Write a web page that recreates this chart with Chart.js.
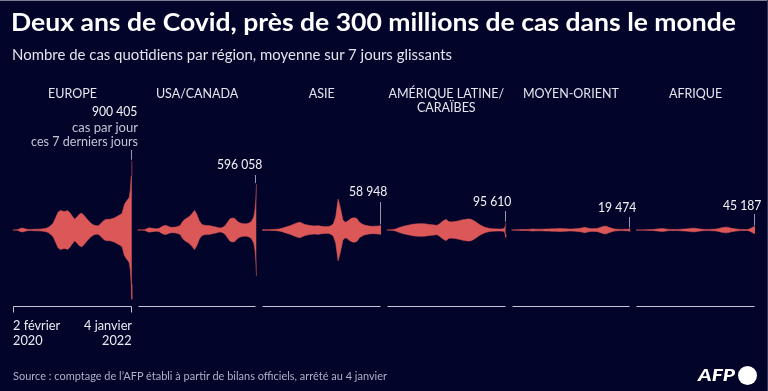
<!DOCTYPE html>
<html lang="fr">
<head>
<meta charset="utf-8">
<title>Deux ans de Covid</title>
<script src="https://cdn.jsdelivr.net/npm/chart.js@4.4.1/dist/chart.umd.min.js"></script>
<style>
  html, body { margin: 0; padding: 0; }
  body {
    width: 768px; height: 391px; overflow: hidden; position: relative;
    background: #03042a; font-family: Lato, "Open Sans", sans-serif; color: #fff;
  }
  #wrap { position: absolute; left: 0; top: 0; width: 768px; height: 391px; }
  .lbl { position: absolute; white-space: nowrap; line-height: 1; }
  #edgeTop { position: absolute; left: 0; top: 0; width: 768px; height: 1px; background: #7d7d93; }
  #edgeRight { position: absolute; right: 0; top: 0; width: 1px; height: 391px; background: #35365a; }
  #logoDot { position: absolute; left: 738px; top: 366px; width: 19px; height: 19px; border-radius: 50%; background: #fff; }
</style>
</head>
<body>
<div id="wrap"><canvas id="chart"></canvas></div>
<div id="edgeTop"></div>
<div id="edgeRight"></div>
<div id="logoDot"></div>
<script>
// Jours depuis le 2 février 2020 (tous les 14 jours, puis les derniers jours)
const days = [0, 14, 28, 42, 56, 70, 84, 98, 112, 126,
    140, 154, 168, 182, 196, 210, 224, 238, 252, 266,
    280, 294, 308, 322, 336, 350, 364, 378, 392, 406,
    420, 434, 448, 462, 476, 490, 504, 518, 532, 546,
    560, 574, 588, 602, 616, 630, 644, 658, 672, 686,
    693, 698, 702];
const dateLabels = [["2 février", "2020"], ["4 janvier", "2022"]];

const regions = [["EUROPE"], ["USA/CANADA"], ["ASIE"], ["AMÉRIQUE LATINE/", "CARAÏBES"], ["MOYEN-ORIENT"], ["AFRIQUE"]];

// Cas quotidiens, moyenne sur 7 jours
const europe = [0, 500, 3000, 18000, 26000, 15000, 9000, 7000, 8000, 9000,
    10000, 11000, 13000, 17000, 22000, 35000, 60000, 90000, 160000, 230000,
    255000, 245000, 240000, 252000, 225000, 180000, 140000, 170000, 205000, 218000,
    190000, 150000, 115000, 85000, 65000, 55000, 55000, 80000, 115000, 135000,
    140000, 140000, 150000, 160000, 180000, 195000, 215000, 330000, 380000, 420000,
    520000, 700000, 900405];
const usaCanada = [0, 0, 500, 3000, 20000, 28000, 22000, 18000, 16000, 20000,
    40000, 55000, 58000, 45000, 35000, 35000, 38000, 45000, 60000, 110000,
    140000, 160000, 180000, 215000, 255000, 200000, 120000, 75000, 62000, 60000,
    58000, 52000, 45000, 38000, 30000, 25000, 35000, 60000, 105000, 145000,
    155000, 150000, 115000, 95000, 85000, 80000, 80000, 90000, 110000, 170000,
    260000, 400000, 596058];
const asie = [2000, 3000, 4000, 4000, 5000, 7000, 9000, 12000, 18000, 28000,
    38000, 48000, 58000, 70000, 85000, 95000, 100000, 85000, 72000, 65000,
    58000, 55000, 52000, 55000, 55000, 48000, 44000, 43000, 45000, 55000,
    80000, 170000, 400000, 280000, 130000, 100000, 115000, 140000, 155000, 160000,
    145000, 100000, 80000, 65000, 58000, 52000, 48000, 48000, 50000, 52000,
    54000, 56000, 58948];
const ameriqueLatine = [0, 1000, 3000, 8000, 17000, 28000, 40000, 48000, 55000, 62000,
    68000, 75000, 78000, 80000, 82000, 82000, 80000, 75000, 72000, 68000,
    64000, 60000, 75000, 100000, 125000, 138000, 110000, 105000, 108000, 110000,
    118000, 125000, 132000, 138000, 142000, 142000, 132000, 115000, 95000, 72000,
    55000, 40000, 30000, 22000, 17000, 15000, 14000, 13000, 13000, 15000,
    20000, 50000, 95610];
const moyenOrient = [0, 500, 2000, 4000, 6000, 7000, 6000, 8000, 10000, 12000,
    11000, 10000, 10000, 11000, 12000, 13000, 14000, 15000, 16000, 17000,
    18000, 18000, 17000, 15000, 13000, 12000, 14000, 16000, 18000, 22000,
    28000, 35000, 26000, 20000, 17000, 18000, 20000, 28000, 40000, 50000,
    48000, 35000, 25000, 16000, 11000, 9000, 8000, 8000, 9000, 10000,
    13000, 16000, 19474];
const afrique = [0, 0, 500, 1000, 2000, 3000, 5000, 7000, 10000, 13000,
    16000, 18000, 15000, 11000, 8000, 7000, 7000, 7000, 8000, 10000,
    12000, 14000, 17000, 21000, 24000, 22000, 17000, 12000, 9000, 8000,
    8000, 8000, 9000, 11000, 14000, 20000, 28000, 34000, 37000, 32000,
    24000, 18000, 14000, 11000, 8000, 6000, 5000, 5000, 15000, 33000,
    42000, 44000, 45187];

const series = [europe, usaCanada, asie, ameriqueLatine, moyenOrient, afrique];

const PERIOD = 736;     // écart entre deux régions, en jours
const LAST_DAY = 702;   // 4 janvier 2022
const RED = '#dc5858';

// Position verticale des étiquettes de valeur et du haut de leur trait
const valueLabelY = [113, 166, 193, 203, 209, 207];
const valueLineTop = [150, 175, 202, 211, 217, 214];
const AXIS_Y = 306.5;

function fmt(n) {
    return String(n).replace(/\B(?=(\d{3})+(?!\d))/g, ' ');
}

// Deux jeux par région : valeurs positives et leur miroir
const datasets = [];
series.forEach((vals, i) => {
    const up = days.map((d, k) => ({ x: i * PERIOD + d, y: vals[k] }));
    const down = days.map((d, k) => ({ x: i * PERIOD + d, y: -vals[k] }));
    [up, down].forEach(data => {
        datasets.push({
            data: data,
            fill: 'origin',
            backgroundColor: RED,
            borderColor: RED,
            borderWidth: 0.6,
            pointRadius: 0,
            tension: 0
        });
    });
});

// Axes en bas de chaque région et traits vers les dernières valeurs
const decorations = {
    id: 'decorations',
    afterDatasetsDraw(chart) {
        const ctx = chart.ctx;
        const xs = chart.scales.x;
        const ys = chart.scales.y;
        ctx.save();
        series.forEach((vals, i) => {
            const x0 = Math.round(xs.getPixelForValue(i * PERIOD)) + 0.5;
            const x1 = Math.round(xs.getPixelForValue(i * PERIOD + LAST_DAY)) - 0.5;
            ctx.strokeStyle = '#c6c6da';
            ctx.lineWidth = 1;
            ctx.beginPath();
            ctx.moveTo(x0, AXIS_Y);
            ctx.lineTo(x1, AXIS_Y);
            if (i === 0) {
                ctx.moveTo(x0, AXIS_Y);
                ctx.lineTo(x0, AXIS_Y + 6);
                ctx.moveTo(x1, AXIS_Y);
                ctx.lineTo(x1, AXIS_Y + 6);
            }
            ctx.stroke();

            const top = ys.getPixelForValue(vals[vals.length - 1]);
            ctx.strokeStyle = '#9696ae';
            ctx.beginPath();
            ctx.moveTo(x1, valueLineTop[i]);
            ctx.lineTo(x1, top - 1);
            ctx.stroke();
        });
        ctx.restore();
    }
};

const chart = new Chart(document.getElementById('chart').getContext('2d'), {
    type: 'line',
    data: { datasets: datasets },
    options: {
        responsive: true,
        maintainAspectRatio: false,
        animation: false,
        layout: { padding: { left: 13, right: 13, top: 130, bottom: 61 } },
        plugins: { legend: { display: false }, tooltip: { enabled: false } },
        scales: {
            x: { type: 'linear', display: false, min: 0, max: 5 * PERIOD + LAST_DAY },
            y: { display: false, min: -1300000, max: 1300000 }
        }
    },
    plugins: [decorations]
});

// Textes en HTML
function addLabel(text, x, y, o) {
    const el = document.createElement('div');
    el.className = 'lbl';
    el.textContent = text;
    el.style.fontSize = o.size + 'px';
    el.style.fontWeight = o.weight || 400;
    el.style.color = o.color || '#ffffff';
    if (o.italic) el.style.fontStyle = 'italic';
    document.body.appendChild(el);
    const w = el.getBoundingClientRect().width;
    const s = o.w ? o.w / w : (o.sx || 1);
    let left = x;
    if (o.align === 'center') left = x - w * s / 2;
    if (o.align === 'right') left = x - w * s;
    el.style.left = left + 'px';
    el.style.top = (y - o.size * 0.56) + 'px';
    el.style.transformOrigin = '0 0';
    el.style.transform = 'scaleX(' + s + ')';
}

addLabel('Deux ans de Covid, près de 300 millions de cas dans le monde', 11, 23, { size: 25, weight: 700, w: 725 });
addLabel('Nombre de cas quotidiens par région, moyenne sur 7 jours glissants', 12, 56, { size: 14.5, color: '#e4e4ee', w: 440 });
addLabel('Source : comptage de l\u2019AFP établi à partir de bilans officiels, arrêté au 4 janvier', 13, 377, { size: 12, color: '#aeb0c4', w: 374 });
addLabel('AFP', 735, 376, { size: 17, weight: 900, italic: true, align: 'right', w: 37 });

const xs = chart.scales.x;
regions.forEach((name, i) => {
    const cx = (xs.getPixelForValue(i * PERIOD) + xs.getPixelForValue(i * PERIOD + LAST_DAY)) / 2;
    name.forEach((line, j) => {
        addLabel(line, cx, 95 + j * 14, { size: 12.5, color: '#e6e6ef', align: 'center', sx: 1 });
    });
    const xEnd = xs.getPixelForValue(i * PERIOD + LAST_DAY) + 6;
    const vals = series[i];
    addLabel(fmt(vals[vals.length - 1]), xEnd, valueLabelY[i], { size: 13.5, color: '#f4f4f8', align: 'right', sx: 0.9 });
    if (i === 0) {
        addLabel('cas par jour', xEnd, 129, { size: 13.5, color: '#c4c4d4', align: 'right', w: 66 });
        addLabel('ces 7 derniers jours', xEnd, 143, { size: 13.5, color: '#c4c4d4', align: 'right', w: 107 });
    }
});

const xStart = xs.getPixelForValue(0);
const xLast = xs.getPixelForValue(LAST_DAY);
addLabel(dateLabels[0][0], xStart, 326, { size: 13, color: '#ececf4', sx: 0.98 });
addLabel(dateLabels[0][1], xStart, 341, { size: 13, color: '#ececf4', sx: 0.98 });
addLabel(dateLabels[1][0], xLast, 326, { size: 13, color: '#ececf4', align: 'right', sx: 0.98 });
addLabel(dateLabels[1][1], xLast, 341, { size: 13, color: '#ececf4', align: 'right', sx: 0.98 });
</script>
</body>
</html>
